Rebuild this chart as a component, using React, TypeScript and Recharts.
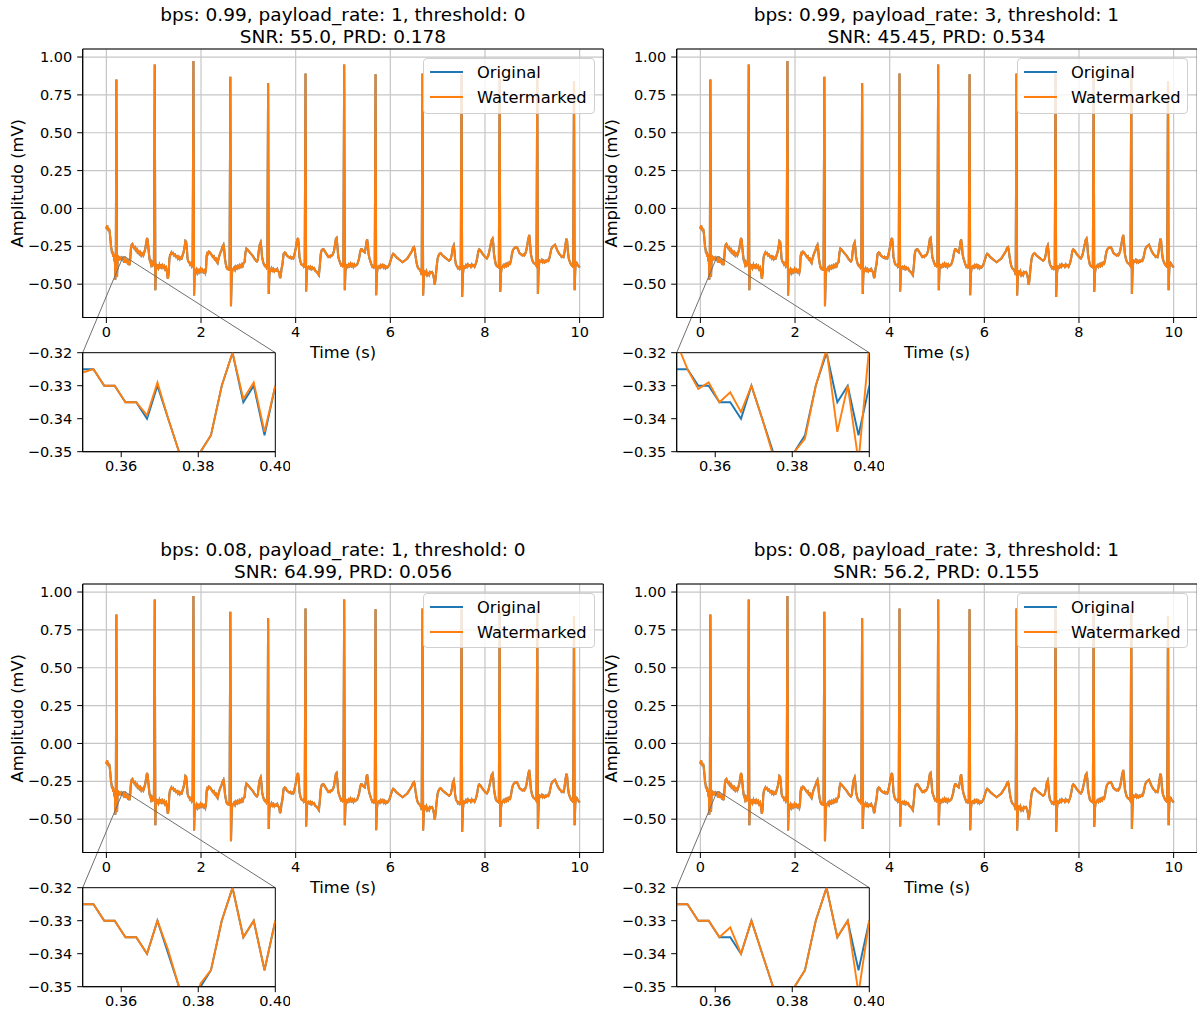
import React from 'react';
import { LineChart, Line, XAxis, YAxis, CartesianGrid, ReferenceArea, ReferenceLine } from 'recharts';

const BLUE = '#1f77b4';
const ORANGE = '#ff7f0e';
const FONT = '"DejaVu Sans", Verdana, sans-serif';

const panelTitles = [
    'bps: 0.99, payload_rate: 1, threshold: 0',
    'bps: 0.99, payload_rate: 3, threshold: 1',
    'bps: 0.08, payload_rate: 1, threshold: 0',
    'bps: 0.08, payload_rate: 3, threshold: 1',
];
const panelMetrics = [
    'SNR: 55.0, PRD: 0.178',
    'SNR: 45.45, PRD: 0.534',
    'SNR: 64.99, PRD: 0.056',
    'SNR: 56.2, PRD: 0.155',
];

const xTicks = [0, 2, 4, 6, 8, 10];
const yTicks = [-0.5, -0.25, 0, 0.25, 0.5, 0.75, 1.0];
const zoomXTicks = [0.36, 0.38, 0.4];
const zoomYTicks = [-0.35, -0.34, -0.33, -0.32];

// ECG trace (time s, amplitude mV)
const ecgStart: [number, number][] = [
    [0.0, -0.12], [0.008, -0.135], [0.016, -0.11], [0.025, -0.14], [0.035, -0.125], [0.048, -0.15], [0.06, -0.135],
    [0.072, -0.16], [0.085, -0.2], [0.098, -0.25], [0.11, -0.27], [0.122, -0.3], [0.134, -0.285], [0.146, -0.32],
    [0.158, -0.3], [0.17, -0.35], [0.18, -0.33], [0.19, -0.47], [0.2, -0.37], [0.212, 0.852], [0.225, -0.45],
    [0.235, -0.36], [0.245, -0.31], [0.258, -0.345], [0.27, -0.315], [0.283, -0.335], [0.296, -0.32], [0.31, -0.34],
    [0.323, -0.325], [0.336, -0.33],
];

const ecgRest: [number, number][] = [
    [0.415, -0.345], [0.43, -0.36], [0.445, -0.335], [0.46, -0.37], [0.475, -0.35], [0.49, -0.375], [0.505, -0.33],
    [0.52, -0.26], [0.535, -0.24], [0.55, -0.235], [0.565, -0.25], [0.58, -0.26], [0.6, -0.255], [0.62, -0.275],
    [0.64, -0.268], [0.66, -0.29], [0.68, -0.283], [0.7, -0.3], [0.72, -0.29], [0.74, -0.31], [0.76, -0.3],
    [0.78, -0.31], [0.8, -0.29], [0.82, -0.27], [0.84, -0.23], [0.86, -0.195], [0.872, -0.21], [0.885, -0.25],
    [0.9, -0.3], [0.915, -0.34], [0.93, -0.35], [0.945, -0.37], [0.96, -0.355], [0.975, -0.37], [0.99, -0.36],
    [1.005, -0.38], [1.022, 0.951], [1.035, -0.54],
    [1.048, -0.4], [1.06, -0.385], [1.075, -0.4], [1.09, -0.37], [1.105, -0.39], [1.12, -0.375], [1.135, -0.395],
    [1.15, -0.37], [1.165, -0.385], [1.18, -0.375], [1.2, -0.39], [1.22, -0.38], [1.24, -0.4], [1.26, -0.39],
    [1.28, -0.42], [1.3, -0.465], [1.315, -0.43], [1.33, -0.34], [1.345, -0.31], [1.36, -0.3], [1.375, -0.29],
    [1.39, -0.3], [1.41, -0.295], [1.43, -0.31], [1.45, -0.305], [1.47, -0.32], [1.49, -0.315], [1.51, -0.33],
    [1.53, -0.32], [1.55, -0.335], [1.57, -0.325], [1.59, -0.33], [1.61, -0.31], [1.63, -0.29], [1.65, -0.26],
    [1.67, -0.215], [1.685, -0.22], [1.7, -0.26], [1.715, -0.33], [1.73, -0.35], [1.75, -0.355], [1.77, -0.37],
    [1.79, -0.36], [1.808, -0.38], [1.823, -0.37], [1.84, 0.973], [1.853, -0.575],
    [1.867, -0.42], [1.88, -0.4], [1.895, -0.42], [1.91, -0.405], [1.93, -0.425], [1.95, -0.41], [1.97, -0.42],
    [1.99, -0.4], [2.01, -0.415], [2.03, -0.405], [2.05, -0.42], [2.07, -0.41], [2.09, -0.425], [2.105, -0.4],
    [2.12, -0.31], [2.135, -0.295], [2.15, -0.3], [2.17, -0.285], [2.19, -0.29], [2.21, -0.3], [2.23, -0.31],
    [2.25, -0.32], [2.27, -0.315], [2.29, -0.335], [2.31, -0.33], [2.33, -0.35], [2.35, -0.36], [2.37, -0.33],
    [2.39, -0.31], [2.41, -0.29], [2.43, -0.28], [2.45, -0.255], [2.475, -0.24], [2.49, -0.27], [2.505, -0.33],
    [2.52, -0.36], [2.54, -0.39], [2.56, -0.4], [2.58, -0.395], [2.603, -0.41], [2.62, 0.87], [2.633, -0.645],
    [2.648, -0.45], [2.66, -0.41], [2.68, -0.4], [2.7, -0.39], [2.72, -0.405], [2.74, -0.385], [2.76, -0.395],
    [2.78, -0.38], [2.8, -0.39], [2.82, -0.375], [2.84, -0.385], [2.86, -0.37], [2.88, -0.38], [2.9, -0.36],
    [2.92, -0.355], [2.94, -0.29], [2.96, -0.265], [2.98, -0.27], [3.0, -0.28], [3.02, -0.285], [3.04, -0.295],
    [3.06, -0.3], [3.08, -0.31], [3.1, -0.315], [3.12, -0.33], [3.14, -0.335], [3.16, -0.345], [3.18, -0.35],
    [3.2, -0.34], [3.22, -0.28], [3.24, -0.24], [3.26, -0.225], [3.275, -0.26], [3.29, -0.32], [3.31, -0.35],
    [3.33, -0.37], [3.35, -0.38], [3.37, -0.375], [3.385, -0.39], [3.401, -0.38], [3.418, 0.826], [3.431, -0.565],
    [3.445, -0.43], [3.458, -0.4], [3.47, -0.41], [3.49, -0.395], [3.51, -0.41], [3.53, -0.4], [3.55, -0.415],
    [3.57, -0.405], [3.59, -0.41], [3.61, -0.4], [3.63, -0.415], [3.65, -0.42], [3.67, -0.46], [3.685, -0.445],
    [3.7, -0.4], [3.72, -0.37], [3.745, -0.3], [3.77, -0.29], [3.79, -0.295], [3.81, -0.31], [3.83, -0.315],
    [3.85, -0.32], [3.87, -0.325], [3.89, -0.32], [3.91, -0.33], [3.93, -0.325], [3.95, -0.33], [3.97, -0.31],
    [3.99, -0.28], [4.01, -0.25], [4.03, -0.21], [4.05, -0.195], [4.065, -0.24], [4.08, -0.32], [4.1, -0.35],
    [4.12, -0.37], [4.14, -0.375], [4.16, -0.37], [4.175, -0.385], [4.191, -0.38], [4.208, 0.892], [4.221, -0.548],
    [4.235, -0.42], [4.25, -0.39], [4.27, -0.385], [4.29, -0.395], [4.31, -0.385], [4.33, -0.4], [4.35, -0.39],
    [4.37, -0.4], [4.39, -0.395], [4.41, -0.41], [4.43, -0.415], [4.45, -0.42], [4.47, -0.43], [4.49, -0.44],
    [4.51, -0.38], [4.53, -0.3], [4.55, -0.275], [4.57, -0.27], [4.59, -0.27], [4.61, -0.28], [4.63, -0.29],
    [4.65, -0.3], [4.67, -0.31], [4.69, -0.32], [4.71, -0.315], [4.73, -0.32], [4.75, -0.31], [4.77, -0.31],
    [4.79, -0.3], [4.81, -0.28], [4.83, -0.24], [4.85, -0.2], [4.865, -0.195], [4.88, -0.24], [4.9, -0.32],
    [4.92, -0.34], [4.94, -0.36], [4.96, -0.375], [4.98, -0.37], [4.995, -0.38], [5.008, -0.375], [5.025, 0.951],
    [5.038, -0.54],
    [5.052, -0.41], [5.065, -0.38], [5.08, -0.375], [5.1, -0.385], [5.12, -0.37], [5.14, -0.38], [5.16, -0.365],
    [5.18, -0.38], [5.2, -0.37], [5.22, -0.385], [5.24, -0.37], [5.26, -0.38], [5.28, -0.375], [5.3, -0.37],
    [5.32, -0.35], [5.34, -0.33], [5.36, -0.29], [5.38, -0.27], [5.4, -0.27], [5.42, -0.28], [5.44, -0.285],
    [5.46, -0.29], [5.48, -0.26], [5.5, -0.215], [5.51, -0.205], [5.525, -0.24], [5.54, -0.3], [5.56, -0.33],
    [5.58, -0.35], [5.6, -0.37], [5.62, -0.385], [5.64, -0.38], [5.656, -0.39], [5.671, -0.385], [5.688, 0.886],
    [5.701, -0.573],
    [5.714, -0.44], [5.727, -0.4], [5.74, -0.385], [5.76, -0.38], [5.78, -0.39], [5.8, -0.375], [5.82, -0.385],
    [5.84, -0.375], [5.86, -0.39], [5.88, -0.38], [5.9, -0.395], [5.92, -0.385], [5.94, -0.39], [5.96, -0.38],
    [5.98, -0.37], [6.0, -0.35], [6.02, -0.33], [6.04, -0.31], [6.06, -0.3], [6.08, -0.305], [6.1, -0.31],
    [6.12, -0.32], [6.14, -0.325], [6.16, -0.33], [6.18, -0.335], [6.2, -0.34], [6.22, -0.345], [6.24, -0.35],
    [6.26, -0.355], [6.28, -0.35], [6.3, -0.345], [6.32, -0.34], [6.34, -0.335], [6.36, -0.33], [6.38, -0.32],
    [6.4, -0.31], [6.42, -0.3], [6.44, -0.29], [6.46, -0.28], [6.48, -0.26], [6.5, -0.255], [6.515, -0.27],
    [6.53, -0.31], [6.55, -0.35], [6.57, -0.38], [6.59, -0.395], [6.61, -0.4], [6.63, -0.41], [6.648, -0.42],
    [6.663, -0.44], [6.68, 0.892], [6.693, -0.575],
    [6.707, -0.45], [6.72, -0.42], [6.74, -0.43], [6.76, -0.415], [6.78, -0.44], [6.8, -0.43], [6.82, -0.44],
    [6.84, -0.42], [6.86, -0.425], [6.88, -0.42], [6.9, -0.43], [6.92, -0.46], [6.94, -0.505], [6.96, -0.45],
    [6.98, -0.38], [7.0, -0.33], [7.02, -0.31], [7.04, -0.3], [7.06, -0.295], [7.08, -0.3], [7.1, -0.31],
    [7.12, -0.315], [7.14, -0.32], [7.16, -0.325], [7.18, -0.33], [7.2, -0.335], [7.22, -0.34], [7.24, -0.345],
    [7.26, -0.34], [7.28, -0.33], [7.3, -0.3], [7.32, -0.26], [7.34, -0.245], [7.355, -0.28], [7.37, -0.34],
    [7.39, -0.375], [7.41, -0.38], [7.43, -0.395], [7.45, -0.39], [7.47, -0.4], [7.488, -0.395], [7.505, 0.89],
    [7.518, -0.585],
    [7.532, -0.44], [7.545, -0.4], [7.56, -0.385], [7.58, -0.39], [7.6, -0.375], [7.62, -0.385], [7.64, -0.37],
    [7.66, -0.38], [7.68, -0.375], [7.7, -0.385], [7.72, -0.37], [7.74, -0.38], [7.76, -0.375], [7.78, -0.385],
    [7.8, -0.37], [7.82, -0.35], [7.84, -0.32], [7.86, -0.28], [7.88, -0.27], [7.9, -0.275], [7.92, -0.285],
    [7.94, -0.295], [7.96, -0.305], [7.98, -0.31], [8.0, -0.32], [8.02, -0.325], [8.04, -0.33], [8.06, -0.32],
    [8.08, -0.3], [8.1, -0.27], [8.12, -0.24], [8.14, -0.21], [8.16, -0.2], [8.175, -0.23], [8.19, -0.3],
    [8.21, -0.34], [8.23, -0.37], [8.25, -0.38], [8.27, -0.385], [8.293, -0.39], [8.31, 0.87], [8.323, -0.55],
    [8.337, -0.43], [8.35, -0.395], [8.37, -0.385], [8.39, -0.375], [8.41, -0.385], [8.43, -0.37], [8.45, -0.38],
    [8.47, -0.365], [8.49, -0.375], [8.51, -0.36], [8.53, -0.365], [8.55, -0.34], [8.57, -0.3], [8.59, -0.275],
    [8.61, -0.265], [8.63, -0.26], [8.65, -0.255], [8.67, -0.255], [8.69, -0.265], [8.71, -0.28], [8.73, -0.295],
    [8.75, -0.3], [8.77, -0.305], [8.79, -0.31], [8.81, -0.305], [8.83, -0.31], [8.85, -0.3], [8.87, -0.28],
    [8.89, -0.25], [8.91, -0.21], [8.935, -0.175], [8.95, -0.22], [8.97, -0.3], [8.99, -0.33], [9.01, -0.35],
    [9.03, -0.36], [9.05, -0.365], [9.07, -0.37], [9.088, -0.38], [9.105, 0.884], [9.118, -0.565],
    [9.132, -0.41], [9.145, -0.36], [9.16, -0.345], [9.18, -0.35], [9.2, -0.34], [9.22, -0.355], [9.24, -0.345],
    [9.26, -0.355], [9.28, -0.345], [9.3, -0.35], [9.32, -0.34], [9.34, -0.345], [9.36, -0.33], [9.38, -0.3],
    [9.4, -0.27], [9.42, -0.255], [9.44, -0.25], [9.46, -0.245], [9.48, -0.24], [9.5, -0.255], [9.52, -0.27],
    [9.54, -0.285], [9.56, -0.295], [9.58, -0.305], [9.6, -0.31], [9.62, -0.32], [9.64, -0.315], [9.66, -0.32],
    [9.68, -0.29], [9.7, -0.24], [9.72, -0.2], [9.735, -0.215], [9.75, -0.28], [9.77, -0.33], [9.79, -0.35],
    [9.81, -0.365], [9.83, -0.375], [9.85, -0.38], [9.864, -0.39], [9.881, 0.84], [9.894, -0.54],
    [9.908, -0.4], [9.92, -0.355], [9.94, -0.36], [9.96, -0.375], [9.98, -0.38], [10.0, -0.39],
];

// zoomed window samples (360 Hz)
const zoomTime = [0.35, 0.3528, 0.3556, 0.3583, 0.3611, 0.3639, 0.3667, 0.3694, 0.3722, 0.375,
    0.3778, 0.3806, 0.3833, 0.3861, 0.3889, 0.3917, 0.3944, 0.3972, 0.4];
const zoomOriginal = [-0.325, -0.325, -0.33, -0.33, -0.335, -0.335, -0.34, -0.33, -0.34, -0.35,
    -0.36, -0.35, -0.345, -0.33, -0.32, -0.335, -0.33, -0.345, -0.33];
const zoomWatermarked1 = [-0.326, -0.325, -0.33, -0.33, -0.335, -0.335, -0.339, -0.329, -0.34, -0.35,
    -0.36, -0.35, -0.345, -0.33, -0.32, -0.334, -0.329, -0.344, -0.33];
const zoomWatermarked2 = [-0.317, -0.325, -0.331, -0.329, -0.335, -0.332, -0.338, -0.33, -0.34, -0.351,
    -0.36, -0.35, -0.346, -0.33, -0.319, -0.344, -0.33, -0.353, -0.318];
const zoomWatermarked3 = [-0.325, -0.325, -0.33, -0.33, -0.335, -0.335, -0.34, -0.33, -0.339, -0.35,
    -0.36, -0.349, -0.345, -0.33, -0.32, -0.335, -0.33, -0.345, -0.33];
const zoomWatermarked4 = [-0.325, -0.325, -0.33, -0.33, -0.335, -0.332, -0.34, -0.33, -0.34, -0.35,
    -0.36, -0.35, -0.345, -0.33, -0.32, -0.335, -0.33, -0.352, -0.33];

const mainTrace = [...ecgStart, ...zoomTime.map((t, i) => [t, zoomOriginal[i]] as [number, number]), ...ecgRest];
const mainData = mainTrace.map(([t, v]) => ({ t, orig: v, wm: v }));

// layout (panel-relative pixels)
const X_DOMAIN: [number, number] = [-0.5, 10.5];
const Y_DOMAIN: [number, number] = [-0.72, 1.053];
const CHART_W = 606;
const CHART_H = 470;
const PLOT_LEFT = 82.7;
const PLOT_RIGHT = 603.3;
const PLOT_TOP = 49;
const PLOT_BOTTOM = 317.5;
const INSET_LEFT = 82.7;
const INSET_RIGHT = 275.3;
const INSET_TOP = 352.7;
const INSET_BOTTOM = 451.7;
const INSET_CHART_TOP = 340;
const INSET_CHART_W = 290;
const INSET_CHART_H = 140;

const toDataX = (px: number) =>
    X_DOMAIN[0] + ((px - PLOT_LEFT) * (X_DOMAIN[1] - X_DOMAIN[0])) / (PLOT_RIGHT - PLOT_LEFT);
const toDataY = (py: number) =>
    Y_DOMAIN[1] - ((py - PLOT_TOP) * (Y_DOMAIN[1] - Y_DOMAIN[0])) / (PLOT_BOTTOM - PLOT_TOP);

const fmt = (digits: number) => (v: number) => (v < 0 ? '\u2212' : '') + Math.abs(v).toFixed(digits);
const tickStyle = { fontSize: 14.5, fill: '#000' };

const panelPositions = [
    { left: 0, top: 0 },
    { left: 593.5, top: 0 },
    { left: 0, top: 534.5 },
    { left: 593.5, top: 534.5 },
];
const panelWatermarked = [zoomWatermarked1, zoomWatermarked2, zoomWatermarked3, zoomWatermarked4];

const LegendBox: React.FC = () => (
    <div
        style={{
            position: 'absolute', left: 423.3, top: 58.3, width: 171.7, height: 55.7, boxSizing: 'border-box',
            border: '1px solid #d0d0d0', borderRadius: 4, background: 'rgba(255,255,255,0.8)',
        }}
    >
        <svg width={170} height={54} style={{ position: 'absolute', left: 0, top: 0 }}>
            <line x1={6} x2={39} y1={13} y2={13} stroke={BLUE} strokeWidth={2} />
            <line x1={6} x2={39} y1={38} y2={38} stroke={ORANGE} strokeWidth={2} />
            <text x={53} y={19} fontSize={16.3} fill="#000">Original</text>
            <text x={53} y={44} fontSize={16.3} fill="#000">Watermarked</text>
        </svg>
    </div>
);

const Panel: React.FC<{ idx: number }> = ({ idx }) => {
    const { left, top } = panelPositions[idx];
    const wm = panelWatermarked[idx];
    const zoomData = zoomTime.map((t, i) => ({ t, orig: zoomOriginal[i], wm: wm[i] }));
    const cornerY = toDataY(INSET_TOP);

    return (
        <div style={{ position: 'absolute', left, top, width: CHART_W, height: CHART_H + 20 }}>
            <div
                style={{
                    position: 'absolute', left: PLOT_LEFT, top: 4.3, width: PLOT_RIGHT - PLOT_LEFT,
                    textAlign: 'center', fontSize: 18.5, lineHeight: '22px', whiteSpace: 'nowrap', color: '#000',
                }}
            >
                {panelTitles[idx]}
                <br />
                {panelMetrics[idx]}
            </div>
            <div style={{ position: 'absolute', left: 0, top: 0 }}>
                <LineChart
                    width={CHART_W}
                    height={CHART_H}
                    data={mainData}
                    margin={{ top: PLOT_TOP, right: CHART_W - PLOT_RIGHT, bottom: 0, left: 0 }}
                >
                    <CartesianGrid stroke="#c6c6c6" strokeWidth={1.2} />
                    <XAxis
                        type="number"
                        dataKey="t"
                        domain={X_DOMAIN}
                        ticks={xTicks}
                        interval={0}
                        allowDataOverflow
                        height={CHART_H - PLOT_BOTTOM}
                        tick={tickStyle}
                        tickSize={5.5}
                        tickMargin={4}
                        stroke="#000"
                        label={{ value: 'Time (s)', position: 'insideTop', offset: 28.5, fontSize: 16.3, fill: '#000' }}
                    />
                    <YAxis
                        type="number"
                        domain={Y_DOMAIN}
                        ticks={yTicks}
                        interval={0}
                        allowDataOverflow
                        width={PLOT_LEFT}
                        tick={tickStyle}
                        tickSize={5.5}
                        tickMargin={5}
                        tickFormatter={fmt(2)}
                        stroke="#000"
                        label={{
                            value: 'Amplitudo (mV)', angle: -90, position: 'insideLeft', offset: 17,
                            fontSize: 16.3, fill: '#000', style: { textAnchor: 'middle' },
                        }}
                    />
                    <Line type="linear" dataKey="orig" stroke={BLUE} strokeWidth={2.1} dot={false} isAnimationActive={false} />
                    <Line type="linear" dataKey="wm" stroke={ORANGE} strokeWidth={2.1} dot={false} isAnimationActive={false} />
                    <ReferenceArea
                        x1={zoomTime[0]} x2={zoomTime[zoomTime.length - 1]} y1={-0.35} y2={-0.32}
                        fill="none" stroke="#555" strokeWidth={1} ifOverflow="visible"
                    />
                    <ReferenceLine
                        segment={[{ x: zoomTime[0], y: -0.32 }, { x: toDataX(INSET_LEFT), y: cornerY }]}
                        stroke="#707070" strokeWidth={1} ifOverflow="visible"
                    />
                    <ReferenceLine
                        segment={[{ x: zoomTime[zoomTime.length - 1], y: -0.32 }, { x: toDataX(INSET_RIGHT), y: cornerY }]}
                        stroke="#707070" strokeWidth={1} ifOverflow="visible"
                    />
                    <ReferenceArea
                        x1={X_DOMAIN[0]} x2={X_DOMAIN[1]} y1={Y_DOMAIN[0]} y2={Y_DOMAIN[1]}
                        fill="none" stroke="#000" strokeWidth={1} ifOverflow="visible"
                    />
                </LineChart>
            </div>
            <LegendBox />
            <div style={{ position: 'absolute', left: 0, top: INSET_CHART_TOP }}>
                <LineChart
                    width={INSET_CHART_W}
                    height={INSET_CHART_H}
                    data={zoomData}
                    margin={{ top: INSET_TOP - INSET_CHART_TOP, right: INSET_CHART_W - INSET_RIGHT, bottom: 0, left: 0 }}
                >
                    <XAxis
                        type="number"
                        dataKey="t"
                        domain={[0.35, 0.4]}
                        ticks={zoomXTicks}
                        interval={0}
                        allowDataOverflow
                        height={INSET_CHART_H - (INSET_BOTTOM - INSET_CHART_TOP)}
                        tick={tickStyle}
                        tickSize={5.5}
                        tickMargin={4}
                        tickFormatter={fmt(2)}
                        stroke="#000"
                    />
                    <YAxis
                        type="number"
                        domain={[-0.35, -0.32]}
                        ticks={zoomYTicks}
                        interval={0}
                        allowDataOverflow
                        width={INSET_LEFT}
                        tick={tickStyle}
                        tickSize={5.5}
                        tickMargin={5}
                        tickFormatter={fmt(2)}
                        stroke="#000"
                    />
                    <Line type="linear" dataKey="orig" stroke={BLUE} strokeWidth={1.9} dot={false} isAnimationActive={false} />
                    <Line type="linear" dataKey="wm" stroke={ORANGE} strokeWidth={1.9} dot={false} isAnimationActive={false} />
                    <ReferenceArea
                        x1={0.35} x2={0.4} y1={-0.35} y2={-0.32}
                        fill="none" stroke="#000" strokeWidth={1} ifOverflow="visible"
                    />
                </LineChart>
            </div>
        </div>
    );
};

const App: React.FC = () => (
    <div
        style={{
            position: 'absolute', left: 0, top: 0, width: 1197, height: 1012, overflow: 'hidden',
            background: '#fff', fontFamily: FONT,
        }}
    >
        {[0, 1, 2, 3].map((i) => (
            <Panel key={i} idx={i} />
        ))}
    </div>
);

export default App;
